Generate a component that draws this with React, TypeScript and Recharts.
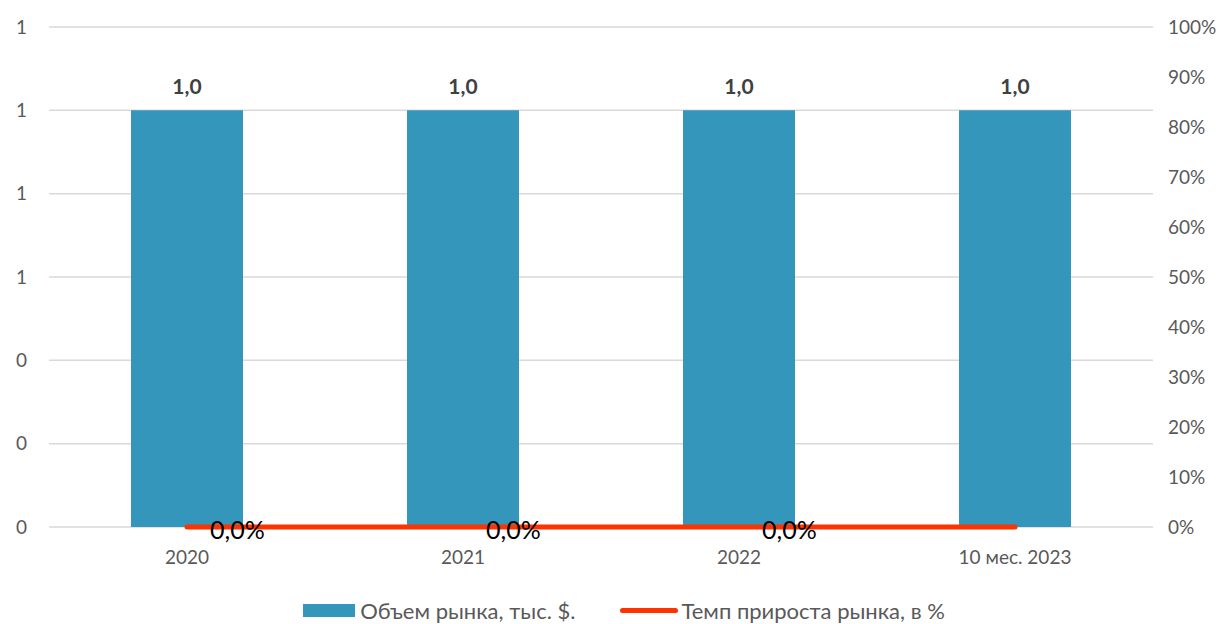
import { ComposedChart, Bar, Line, XAxis, YAxis, CartesianGrid, Legend, LabelList } from "recharts"

const categories = ["2020", "2021", "2022", "10 мес. 2023"]
const marketVolume = [1.0, 1.0, 1.0, 1.0]
const growthRate = [0, 0, 0, 0]
const growthLabels = ["0,0%", "0,0%", "0,0%", ""]
const leftTicks = [0, 0.2, 0.4, 0.6, 0.8, 1.0, 1.2]
const rightTicks = [0, 0.1, 0.2, 0.3, 0.4, 0.5, 0.6, 0.7, 0.8, 0.9, 1.0]

const data = categories.map((name, i) => ({
  name,
  volume: marketVolume[i],
  growth: growthRate[i],
  growthLabel: growthLabels[i],
}))

const FONT = "Lato, 'Open Sans', sans-serif"
const BLUE = "#3596bc"
const RED = "#ff3300"

function LegendContent() {
  return (
    <div style={{ height: 52, boxSizing: "border-box", paddingTop: 26 }}>
      <div style={{ display: "flex", justifyContent: "center", alignItems: "center", height: 24, fontFamily: FONT, fontSize: 22, color: "#595959", paddingLeft: 18 }}>
        <span style={{ display: "inline-block", width: 52, height: 13, background: BLUE, marginRight: 5 }} />
        <span style={{ marginRight: 45 }}>Объем рынка, тыс. $.</span>
        <span style={{ display: "inline-block", width: 58, height: 5, borderRadius: 3, background: RED, marginRight: 3 }} />
        <span>Темп прироста рынка, в %</span>
      </div>
    </div>
  )
}

export default function App() {
  return (
    <div style={{ position: "absolute", left: 0, top: 0, width: 1230, height: 624, background: "#fff" }}>
      <ComposedChart width={1230} height={624} data={data} margin={{ top: 27, right: 0, bottom: 0, left: 0 }}>
        <CartesianGrid yAxisId="left" vertical={false} stroke="#d9d9d9" strokeWidth={1.5} />
        <XAxis
          dataKey="name"
          axisLine={false}
          tickLine={false}
          tickSize={0}
          tickMargin={24}
          height={45}
          tick={{ fill: "#595959", fontSize: 19, fontFamily: FONT }}
        />
        <YAxis
          yAxisId="left"
          width={49}
          domain={[0, 1.2]}
          ticks={leftTicks}
          tickFormatter={(v: number) => String(Math.round(v))}
          axisLine={false}
          tickLine={false}
          tickSize={0}
          tickMargin={22}
          tick={{ fill: "#595959", fontSize: 19, fontFamily: FONT }}
        />
        <YAxis
          yAxisId="right"
          orientation="right"
          width={77}
          domain={[0, 1]}
          ticks={rightTicks}
          tickFormatter={(v: number) => `${Math.round(v * 100)}%`}
          axisLine={false}
          tickLine={false}
          tickSize={0}
          tickMargin={15}
          tick={{ fill: "#595959", fontSize: 19, fontFamily: FONT, textAnchor: "start" }}
        />
        <Legend verticalAlign="bottom" height={52} content={() => <LegendContent />} />
        <Bar yAxisId="left" dataKey="volume" fill={BLUE} barSize={112} isAnimationActive={false}>
          <LabelList
            dataKey="volume"
            position="top"
            offset={16}
            formatter={(v: any) => Number(v).toFixed(1).replace(".", ",")}
            style={{ fill: "#404040", fontSize: 21, fontWeight: 700, fontFamily: FONT }}
          />
        </Bar>
        <Line
          yAxisId="right"
          dataKey="growth"
          stroke={RED}
          strokeWidth={5}
          strokeLinecap="round"
          dot={false}
          activeDot={false}
          isAnimationActive={false}
        >
          <LabelList
            dataKey="growthLabel"
            position="right"
            offset={23}
            dy={3}
            style={{ fill: "#000", fontSize: 25, fontFamily: FONT }}
          />
        </Line>
      </ComposedChart>
    </div>
  )
}
